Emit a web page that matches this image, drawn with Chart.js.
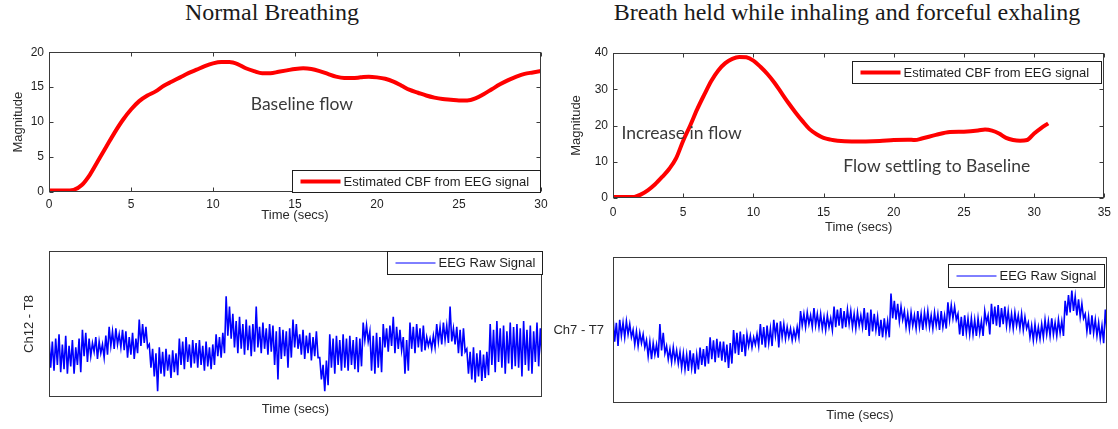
<!DOCTYPE html>
<html lang="en">
<head>
<meta charset="UTF-8">
<title>CBF estimated from EEG</title>
<script src="https://cdn.jsdelivr.net/npm/chart.js@4.4.1/dist/chart.umd.min.js"></script>
<style>
    body {
        margin: 0;
        width: 1118px;
        height: 429px;
        position: relative;
        overflow: hidden;
        background: #fff;
    }

    .heading {
        position: absolute;
        top: -1px;
        transform: translateX(-50%);
        white-space: nowrap;
        font-family: "Liberation Serif", "Times New Roman", serif;
        font-size: 24px;
        color: #1a1a1a;
    }

    .panel {
        position: absolute;
    }
</style>
</head>
<body>
    <div class="heading" style="left:272px">Normal Breathing</div>
    <div class="heading" style="left:847px">Breath held while inhaling and forceful exhaling</div>

    <div class="panel" style="left:0;top:40px;width:560px;height:190px"><canvas id="cbfNormal"></canvas></div>
    <div class="panel" style="left:560px;top:40px;width:558px;height:200px"><canvas id="cbfHeld"></canvas></div>
    <div class="panel" style="left:0;top:230px;width:560px;height:199px"><canvas id="eegNormal"></canvas></div>
    <div class="panel" style="left:540px;top:230px;width:578px;height:199px"><canvas id="eegHeld"></canvas></div>

<script>
// CBF estimate, normal breathing (secs / magnitude)
const normalTime = [0, 1, 1.5, 2, 2.5, 3, 3.5, 4, 4.5, 5, 5.5, 6, 6.5, 7, 7.5, 8, 8.5, 9, 9.5, 10,
    10.5, 11, 11.5, 12, 12.5, 13, 13.5, 14, 14.5, 15, 15.5, 16, 16.5, 17, 17.5, 18, 18.5, 19, 19.5, 20,
    20.5, 21, 21.5, 22, 22.5, 23, 23.5, 24, 24.5, 25, 25.5, 26, 26.5, 27, 27.5, 28, 28.5, 29, 29.5, 30]
const normalCbf = [0.2, 0.2, 0.3, 1, 2.5, 4.5, 6.5, 8.5, 10.3, 11.8, 13, 13.8, 14.4, 15.2, 15.8, 16.4, 17, 17.5, 18, 18.4,
    18.6, 18.6, 18.3, 17.7, 17.3, 17.0, 17.0, 17.2, 17.4, 17.6, 17.7, 17.6, 17.3, 16.9, 16.5, 16.3, 16.3, 16.4, 16.5, 16.4,
    16.2, 15.8, 15.2, 14.6, 14.2, 13.8, 13.5, 13.3, 13.2, 13.1, 13.1, 13.4, 14, 14.7, 15.4, 16, 16.5, 16.9, 17.1, 17.3]

// CBF estimate, breath held then forced out
const heldTime = [0, 1, 1.5, 2, 2.5, 3, 3.5, 4, 4.5, 5, 5.5, 6, 6.5, 7, 7.5, 8, 8.5, 9, 9.5, 10,
    10.5, 11, 11.5, 12, 12.5, 13, 13.5, 14, 14.5, 15, 15.5, 16, 17, 18, 19, 20, 21, 21.5, 22, 23,
    24, 25, 26, 26.5, 27, 27.5, 28, 28.5, 29, 29.5, 30, 30.5, 31]
const heldCbf = [0.3, 0.3, 0.3, 1, 2.2, 3.8, 5.8, 8.0, 11.0, 15.8, 20, 24.5, 28.5, 32.3, 35.2, 37.2, 38.4, 38.9, 38.8, 37.9,
    36.2, 34.2, 31.8, 29.0, 26.2, 23.6, 21.2, 19.0, 17.6, 16.6, 16.1, 15.8, 15.6, 15.6, 15.7, 16.0, 16.1, 16.0, 16.4, 17.4,
    18.2, 18.3, 18.6, 18.9, 18.6, 17.8, 16.6, 16.0, 15.8, 16.0, 17.8, 19.3, 20.6]

// raw EEG samples, arbitrary units (0 = bottom of frame, 100 = top),
// swinging between the top and bottom of the trace band
const normalEeg = [
    41, 20, 38, 18, 40, 22,
    43, 17, 36, 19, 42, 16, 35, 21,
    39, 16, 34, 22, 40, 17,
    46, 28, 44, 24,
    40, 28, 37, 31, 41, 26, 38, 30, 36, 27, 42, 29,
    48, 35, 45, 33, 47, 36, 43, 34, 46, 32,
    45, 27, 41, 29, 44, 26, 40, 30,
    53, 35, 50, 37, 48, 34,
    36, 20, 33, 14, 30, 4,
    34, 16, 31, 14, 33, 18, 29, 13, 32, 17, 30, 15,
    40, 22, 38, 19, 41, 24, 36, 20, 39, 23,
    37, 20, 39, 22, 35, 18, 38, 21, 34, 19, 36, 22,
    43, 28, 41, 27, 44, 30,
    69, 42, 62, 40,
    57, 34, 52, 30, 55, 33, 50, 29, 53, 32, 49, 28,
    50, 31, 62, 34, 48, 30, 51, 33, 47, 29, 50, 31,
    49, 22, 45, 12, 48, 26, 46, 28, 45, 20, 47, 27,
    53, 34, 50, 33,
    43, 29, 46, 26, 42, 30, 44, 25, 41, 28, 45, 27,
    27, 12, 22, 4, 25, 8,
    43, 20, 40, 16, 42, 22, 39, 18,
    43, 20, 40, 18, 42, 22, 39, 19, 41, 17, 40, 21,
    51, 39, 49, 38,
    45, 18, 42, 16, 44, 20, 41, 17,
    50, 34, 47, 31, 49, 35, 55, 30, 48, 33, 46, 32,
    41, 16, 39, 18,
    51, 33, 48, 30, 50, 34, 47, 31, 49, 32,
    41, 35, 40, 33, 42, 34,
    50, 38, 48, 36, 51, 39, 49, 37, 62, 38, 47, 36,
    48, 30, 46, 28, 47, 31,
    33, 16, 31, 12, 34, 10, 30, 14, 32, 11, 29, 13, 31, 15,
    50, 22, 46, 17, 52, 24, 47, 20, 49, 16, 45, 23, 51, 19, 48, 21,
    50, 20, 47, 14, 52, 22, 46, 18, 49, 16, 45, 24, 51, 21, 47, 26]

const heldEeg = [
    59, 42, 55, 39,
    57, 46, 55, 45, 56, 47, 54, 45,
    50, 40, 49, 39, 48, 41, 47, 38,
    43, 32, 42, 30, 41, 33, 40, 31,
    54, 36, 48, 34,
    39, 30, 37, 28, 38, 29, 36, 27,
    35, 24, 34, 23, 33, 22, 36, 24, 34, 20, 33, 23,
    38, 26, 37, 25, 39, 27,
    45, 30, 43, 28, 44, 31, 42, 29,
    42, 28, 40, 24, 41, 27,
    50, 34, 48, 33, 49, 35, 47, 32,
    47, 39, 46, 38, 45, 40, 47, 39,
    54, 40, 52, 38, 53, 41, 51, 39,
    57, 46, 55, 38, 56, 45, 54, 44,
    52, 45, 51, 43, 50, 44, 52, 45,
    63, 53, 61, 52, 62, 54, 60, 52, 65, 53, 61, 52,
    61, 51, 59, 50, 60, 52, 58, 50,
    66, 52, 64, 53, 65, 51, 63, 52, 64, 54,
    63, 52, 61, 51, 62, 53, 60, 52,
    65, 50, 62, 46, 64, 49, 61, 50,
    59, 46, 57, 45, 58, 47, 56, 45,
    75, 58, 70, 57, 68, 56, 66, 57,
    63, 52, 61, 51, 62, 53, 60, 51, 63, 52, 61, 50, 62, 53,
    63, 52, 60, 51, 62, 53, 61, 50, 63, 52, 60, 51,
    69, 57, 67, 58, 66, 57,
    61, 47, 59, 46, 60, 48, 58, 47,
    58, 47, 57, 46, 58, 48, 56, 46,
    63, 55, 60, 47,
    68, 54, 66, 53, 67, 52, 65, 54, 66, 53,
    63, 52, 61, 51, 62, 53, 60, 51, 61, 50, 59, 51,
    55, 45, 53, 43, 54, 44, 52, 44, 54, 45,
    57, 47, 56, 46, 58, 47, 55, 46, 57, 48, 56, 46,
    70, 60, 74, 62, 77, 63, 73, 60, 71, 59, 68, 58,
    61, 49, 59, 47, 60, 48, 57, 46,
    55, 44, 53, 41, 64, 48]

Chart.defaults.font.family = '"Liberation Sans", Arial, sans-serif'
Chart.defaults.font.size = 12
Chart.defaults.color = '#1e1e1e'

// matlab-ish axes box: frame, inward ticks, boxed legend, free text notes
const frame = {
    id: 'frame',
    afterDatasetsDraw(chart, args, opts) {
        const { ctx, chartArea: a, scales } = chart
        const L = Math.round(a.left) + 0.5, R = Math.round(a.right) - 0.5
        const T = Math.round(a.top) + 0.5, B = Math.round(a.bottom) - 0.5
        ctx.save()

        ;(opts.notes || []).forEach(n => {
            ctx.font = '17.5px Lato, "Open Sans", sans-serif'
            ctx.fillStyle = '#3a3a3a'
            ctx.textAlign = 'left'
            ctx.textBaseline = 'middle'
            ctx.fillText(n.text, scales.x.getPixelForValue(n.x), scales.y.getPixelForValue(n.y))
        })

        ctx.strokeStyle = '#3a3a3a'
        ctx.lineWidth = 1
        ctx.strokeRect(L, T, R - L, B - T)

        if (opts.ticks) {
            ctx.beginPath()
            scales.x.ticks.forEach(t => {
                const px = Math.round(scales.x.getPixelForValue(t.value)) + 0.5
                ctx.moveTo(px, B); ctx.lineTo(px, B - 4)
                ctx.moveTo(px, T); ctx.lineTo(px, T + 4)
            })
            scales.y.ticks.forEach(t => {
                const py = Math.round(scales.y.getPixelForValue(t.value)) + 0.5
                ctx.moveTo(L, py); ctx.lineTo(L + 4, py)
                ctx.moveTo(R, py); ctx.lineTo(R - 4, py)
            })
            ctx.stroke()
        }

        if (opts.sideLabel) {
            ctx.font = '13px "Liberation Sans", Arial, sans-serif'
            ctx.fillStyle = '#2a2a2a'
            ctx.textAlign = 'right'
            ctx.textBaseline = 'middle'
            ctx.fillText(opts.sideLabel, a.left - 9, (a.top + a.bottom) / 2)
        }

        const lg = opts.legend
        if (lg) {
            const x = Math.round(a.right - lg.right - lg.w) + 0.5
            const y = Math.round(lg.top !== undefined ? a.top + lg.top : a.bottom - lg.bottom - lg.h) + 0.5
            ctx.fillStyle = '#fff'
            ctx.fillRect(x, y, lg.w, lg.h)
            ctx.strokeStyle = '#1e1e1e'
            ctx.strokeRect(x, y, lg.w, lg.h)
            ctx.beginPath()
            ctx.strokeStyle = lg.color
            ctx.lineWidth = lg.lineWidth
            ctx.moveTo(x + 8, y + lg.h / 2)
            ctx.lineTo(x + 48, y + lg.h / 2)
            ctx.stroke()
            ctx.font = '13px "Liberation Sans", Arial, sans-serif'
            ctx.fillStyle = '#1e1e1e'
            ctx.textAlign = 'left'
            ctx.textBaseline = 'middle'
            ctx.fillText(lg.label, x + 51, y + lg.h / 2 + 0.5)
        }
        ctx.restore()
    }
}

const timeTitle = (bottom) => ({
    display: true, text: 'Time (secs)', color: '#2a2a2a',
    font: { size: 13 }, padding: { top: 0, bottom: bottom }
})

const cbfChart = (id, time, values, xMax, yMax, yStep, sizes, plug) => new Chart(id, {
    type: 'line',
    data: {
        datasets: [{
            data: time.map((t, i) => ({ x: t, y: values[i] })),
            borderColor: '#ff0000',
            borderWidth: 4,
            pointRadius: 0,
            cubicInterpolationMode: 'monotone',
            fill: false
        }]
    },
    options: {
        animation: false,
        responsive: true,
        maintainAspectRatio: false,
        events: [],
        layout: { padding: sizes.padding },
        plugins: { legend: { display: false }, tooltip: { enabled: false }, frame: plug },
        scales: {
            x: {
                type: 'linear', min: 0, max: xMax,
                ticks: { stepSize: 5, padding: sizes.xTickPad, maxRotation: 0 },
                grid: { display: false, drawTicks: false },
                border: { display: false },
                title: timeTitle(0),
                afterFit: s => { s.height = sizes.xHeight }
            },
            y: {
                min: 0, max: yMax,
                ticks: { stepSize: yStep, padding: 5 },
                grid: { display: false, drawTicks: false },
                border: { display: false },
                title: { display: true, text: 'Magnitude', color: '#2a2a2a', font: { size: 13 }, padding: { top: sizes.yTitlePad } },
                afterFit: s => { s.width = sizes.yWidth }
            }
        }
    },
    plugins: [frame]
})

const eegChart = (id, values, sizes, yTitle, plug) => new Chart(id, {
    type: 'line',
    data: {
        datasets: [{
            data: values.map((v, i) => ({ x: i, y: v })),
            borderColor: '#0000ff',
            borderWidth: 1.6,
            pointRadius: 0,
            tension: 0,
            fill: false
        }]
    },
    options: {
        animation: false,
        responsive: true,
        maintainAspectRatio: false,
        events: [],
        layout: { padding: sizes.padding },
        plugins: { legend: { display: false }, tooltip: { enabled: false }, frame: plug },
        scales: {
            x: {
                type: 'linear', min: 0, max: values.length - 1,
                ticks: { display: false },
                grid: { display: false, drawTicks: false },
                border: { display: false },
                title: timeTitle(0),
                afterFit: s => { s.height = sizes.xHeight }
            },
            y: {
                min: 0, max: 100,
                ticks: { display: false },
                grid: { display: false, drawTicks: false },
                border: { display: false },
                title: { display: !!yTitle, text: yTitle, color: '#2a2a2a', font: { size: 13 }, padding: { top: sizes.yTitlePad } },
                afterFit: s => { s.width = sizes.yWidth }
            }
        }
    },
    plugins: [frame]
})

cbfChart('cbfNormal', normalTime, normalCbf, 30, 20, 5,
    { padding: { top: 7, right: 19, bottom: 7, left: 0 }, xHeight: 31, yWidth: 49, xTickPad: 5, yTitlePad: 11 },
    {
        ticks: true,
        notes: [{ text: 'Baseline flow', x: 12.3, y: 12.5 }],
        legend: { right: 1, bottom: 0, w: 248, h: 22, color: '#ff0000', lineWidth: 4, label: 'Estimated CBF from EEG signal' }
    })

cbfChart('cbfHeld', heldTime, heldCbf, 35, 40, 10,
    { padding: { top: 13, right: 11, bottom: 5, left: 0 }, xHeight: 37, yWidth: 53, xTickPad: 7, yTitlePad: 9 },
    {
        ticks: true,
        notes: [
            { text: 'Increase in flow', x: 0.6, y: 17.9 },
            { text: 'Flow settling to Baseline', x: 16.4, y: 8.6 }
        ],
        legend: { right: 3, top: 8, w: 249, h: 22, color: '#ff0000', lineWidth: 4, label: 'Estimated CBF from EEG signal' }
    })

eegChart('eegNormal', normalEeg,
    { padding: { top: 21, right: 18, bottom: 12, left: 0 }, xHeight: 20, yWidth: 49, yTitlePad: 22 },
    'Ch12 - T8',
    { legend: { right: 0, top: 0, w: 155, h: 23, color: '#0000ff', lineWidth: 1, label: 'EEG Raw Signal' } })

eegChart('eegHeld', heldEeg,
    { padding: { top: 27, right: 11, bottom: 6, left: 0 }, xHeight: 20, yWidth: 73, yTitlePad: 0 },
    '',
    {
        sideLabel: 'Ch7 - T7',
        legend: { right: 3, top: 7, w: 156, h: 23, color: '#0000ff', lineWidth: 1, label: 'EEG Raw Signal' }
    })
</script>
</body>
</html>
